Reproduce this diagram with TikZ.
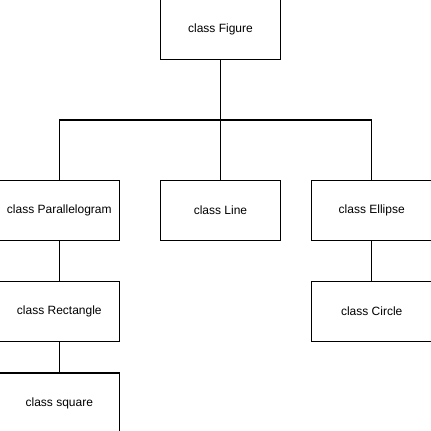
\documentclass[tikz,border=0pt]{standalone}
\usepackage{fontspec}
\setmainfont{Liberation Sans}
\usetikzlibrary{positioning}
\tikzset{
ClassBox/.style = {draw, line width=0.9pt, minimum width=90pt, minimum height=45pt,
  inner sep=0pt, font=\fontsize{9}{11}\selectfont},
Link/.style = {line width=0.9pt}
}

\begin{document}
\begin{tikzpicture}
    \useasboundingbox (-0.375pt,0.375pt) rectangle (322.875pt,-322.875pt);
    \node [ClassBox] (lineC) at (165pt,-157.5pt) {class Line};
    \node [ClassBox, above =90pt of lineC] (figureC) {class Figure};
    \node [ClassBox, left =30pt of lineC] (paraC) {class Parallelogram};
    \node [ClassBox, right =22.5pt of lineC] (ellipseC) {class Ellipse};
    \node [ClassBox, below =30pt of paraC] (rectC) {class Rectangle};
    \node [ClassBox, below =30pt of ellipseC] (circleC) {class Circle};
    \node [ClassBox, below =22.5pt of rectC] (squareC) {class square};

    \draw[Link] (figureC.south) -- ++(0,-45pt) coordinate (fork);
    \draw[Link] (paraC.north) |- (fork) -| (ellipseC.north);
    \draw[Link] (fork) -- (lineC.north);
    \draw[Link] (paraC) -- (rectC);
    \draw[Link] (rectC) -- (squareC);
    \draw[Link] (ellipseC) -- (circleC);
\end{tikzpicture}
\end{document}
